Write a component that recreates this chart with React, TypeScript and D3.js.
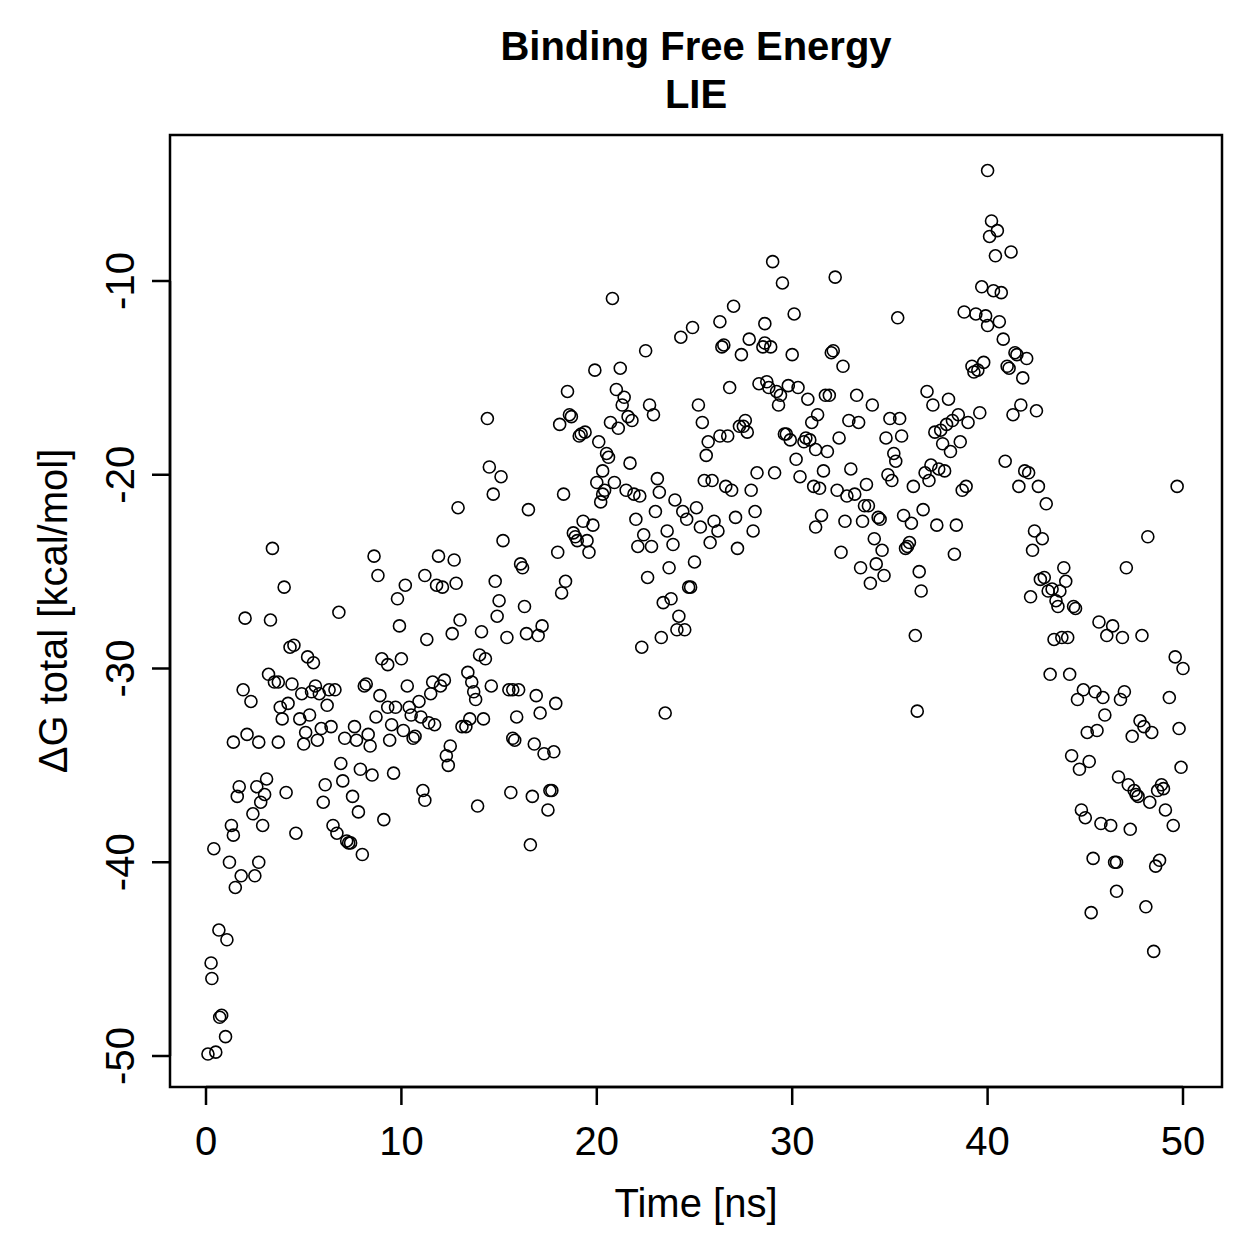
import React from "react";
import * as d3 from "d3";

const xTicks = [0, 10, 20, 30, 40, 50];
const yTicks = [-50, -40, -30, -20, -10];
const title1 = "Binding Free Energy";
const title2 = "LIE";
const xLabel = "Time [ns]";
const yLabel = "ΔG total [kcal/mol]";

// [time (ns), ΔG total (kcal/mol)]
const points: [number, number][] = [
  [0.1,-49.9],[0.5,-49.8],[1.0,-49.0],[0.8,-47.9],[0.7,-48.0],[0.26,-45.2],[0.3,-46.0],[0.66,-43.5],[1.07,-44.0],
  [0.4,-39.3],[1.2,-40.0],[1.3,-38.1],[1.4,-38.6],[1.5,-41.3],[1.4,-33.8],[1.6,-36.6],[1.7,-36.1],[1.8,-40.7],
  [1.9,-31.1],[2.0,-27.4],[2.1,-33.4],[2.3,-31.7],[2.4,-37.5],[2.5,-40.7],[2.6,-36.1],[2.7,-33.8],[2.7,-40.0],
  [2.8,-36.9],[2.9,-38.1],[3.0,-36.5],[3.1,-35.7],[3.3,-27.5],[3.2,-30.3],[3.4,-23.8],[3.5,-30.7],[3.7,-30.7],
  [3.7,-33.8],[3.8,-32.0],[3.9,-32.6],[4.0,-25.8],[4.1,-36.4],[4.2,-31.8],[4.3,-28.9],[4.4,-30.8],[4.5,-28.8],
  [4.6,-38.5],[4.8,-32.6],[4.9,-31.3],[5.0,-33.9],[5.1,-33.3],[5.2,-29.4],[5.3,-32.4],[5.4,-31.2],[5.5,-29.7],
  [5.6,-30.9],[5.7,-33.7],[5.8,-31.3],[5.9,-33.1],[6.0,-36.9],[6.1,-36.0],[6.2,-31.9],[6.3,-31.1],[6.4,-33.0],
  [6.5,-38.1],[6.6,-31.1],[6.7,-38.5],[6.8,-27.1],[6.9,-34.9],[7.0,-35.8],[7.1,-33.6],[7.2,-38.9],[7.3,-39.0],
  [7.4,-39.0],[7.5,-36.6],[7.6,-33.0],[7.7,-33.7],[7.8,-37.4],[7.9,-35.2],[8.0,-39.6],[8.1,-30.9],[8.2,-30.8],
  [8.3,-33.4],[8.4,-34.0],[8.5,-35.5],[8.6,-24.2],[8.7,-32.5],[8.8,-25.2],[8.9,-31.4],[9.0,-29.5],[9.1,-37.8],
  [9.3,-29.8],[9.3,-32.0],[9.4,-33.7],[9.5,-32.9],[9.6,-35.4],[9.7,-32.0],[9.8,-26.4],[9.9,-27.8],[10.0,-29.5],
  [10.1,-33.2],[10.2,-25.7],[10.3,-30.9],[10.4,-32.0],[10.5,-32.4],[10.6,-33.6],[10.7,-33.5],[10.9,-31.7],[11.0,-32.5],
  [11.1,-36.3],[11.2,-36.8],[11.2,-25.2],[11.3,-28.5],[11.4,-32.8],[11.5,-31.3],[11.6,-30.7],[11.7,-32.9],[11.8,-25.7],
  [11.9,-24.2],[12.0,-30.9],[12.1,-25.8],[12.2,-30.6],[12.3,-34.5],[12.4,-35.0],[12.5,-34.0],[12.6,-28.2],[12.7,-24.4],
  [12.8,-25.6],[12.9,-21.7],[13.0,-27.5],[13.1,-33.0],[13.3,-33.0],[13.4,-30.2],[13.5,-32.6],[13.6,-30.7],[13.7,-31.2],
  [13.8,-31.6],[13.9,-37.1],[14.0,-29.3],[14.1,-28.1],[14.2,-32.6],[14.3,-29.5],[14.4,-17.1],[14.5,-19.6],[14.6,-30.9],
  [14.7,-21.0],[14.8,-25.5],[14.9,-27.3],[15.0,-26.5],[15.1,-20.1],[15.2,-23.4],[15.4,-28.4],[15.5,-31.1],[15.6,-36.4],
  [15.7,-31.1],[15.7,-33.6],[15.8,-33.7],[15.9,-32.5],[16.0,-31.1],[16.1,-24.6],[16.2,-24.8],[16.3,-26.8],[16.4,-28.2],
  [16.5,-21.8],[16.6,-39.1],[16.7,-36.6],[16.8,-33.9],[16.9,-31.4],[17.0,-28.3],[17.1,-32.3],[17.2,-27.8],[17.3,-34.4],
  [17.5,-37.3],[17.6,-36.3],[17.7,-36.3],[17.8,-34.3],[17.9,-31.8],[18.0,-24.0],[18.1,-17.4],[18.2,-26.1],[18.3,-21.0],
  [18.4,-25.5],[18.5,-15.7],[18.6,-16.9],[18.7,-17.0],[18.8,-23.0],[18.9,-23.2],[19.0,-23.4],[19.1,-18.0],[19.2,-17.9],
  [19.3,-22.4],[19.4,-17.8],[19.5,-23.4],[19.6,-24.0],[19.8,-22.6],[19.9,-14.6],[20.0,-20.4],[20.1,-18.3],[20.2,-21.4],
  [20.3,-19.8],[20.3,-21.0],[20.4,-20.8],[20.5,-18.9],[20.6,-19.1],[20.7,-17.3],[20.8,-10.9],[20.9,-20.4],[21.0,-15.6],
  [21.1,-17.6],[21.2,-14.5],[21.3,-16.4],[21.4,-16.0],[21.5,-20.8],[21.6,-17.0],[21.7,-19.4],[21.8,-17.2],[21.9,-21.0],
  [22.0,-22.3],[22.1,-23.7],[22.2,-21.1],[22.3,-28.9],[22.4,-23.1],[22.5,-13.6],[22.6,-25.3],[22.7,-16.4],[22.8,-23.7],
  [22.9,-16.9],[23.0,-21.9],[23.1,-20.2],[23.2,-20.9],[23.3,-28.4],[23.4,-26.6],[23.5,-32.3],[23.6,-22.9],[23.7,-24.8],
  [23.8,-26.4],[23.9,-23.6],[24.0,-21.3],[24.1,-28.0],[24.2,-27.3],[24.3,-12.9],[24.4,-21.9],[24.5,-28.0],[24.6,-22.3],
  [24.7,-25.8],[24.8,-25.8],[24.9,-12.4],[25.0,-24.5],[25.1,-21.7],[25.2,-16.4],[25.3,-22.7],[25.4,-17.3],[25.5,-20.3],
  [25.6,-19.0],[25.7,-18.3],[25.8,-23.5],[25.9,-20.3],[26.0,-22.4],[26.2,-22.9],[26.3,-18.0],[26.3,-12.1],[26.4,-13.4],
  [26.5,-13.3],[26.6,-20.6],[26.7,-18.0],[26.8,-15.5],[26.9,-20.8],[27.0,-11.3],[27.1,-22.2],[27.2,-23.8],[27.3,-17.5],
  [27.4,-13.8],[27.5,-17.5],[27.6,-17.2],[27.7,-17.8],[27.8,-13.0],[27.9,-20.8],[28.0,-22.9],[28.1,-21.9],[28.2,-19.9],
  [28.3,-15.3],[28.5,-13.4],[28.6,-13.2],[28.6,-12.2],[28.7,-15.2],[28.8,-15.5],[28.9,-13.4],[29.0,-9.0],[29.1,-19.9],
  [29.2,-15.7],[29.3,-16.4],[29.4,-15.9],[29.5,-10.1],[29.6,-17.9],[29.7,-17.9],[29.8,-15.4],[29.9,-18.2],[30.0,-13.8],
  [30.1,-11.7],[30.2,-19.2],[30.3,-15.5],[30.4,-20.1],[30.6,-18.3],[30.7,-18.1],[30.8,-16.1],[30.9,-18.2],[31.0,-17.3],
  [31.1,-20.6],[31.2,-22.7],[31.2,-18.7],[31.3,-16.9],[31.4,-20.7],[31.5,-22.1],[31.6,-19.8],[31.7,-15.9],[31.8,-18.8],
  [31.9,-15.9],[32.0,-13.7],[32.1,-13.6],[32.2,-9.8],[32.3,-20.8],[32.4,-18.1],[32.5,-24.0],[32.6,-14.4],[32.7,-22.4],
  [32.8,-21.1],[32.9,-17.2],[33.0,-19.7],[33.2,-21.0],[33.3,-15.9],[33.4,-17.3],[33.5,-24.8],[33.6,-22.4],[33.7,-21.6],
  [33.8,-20.5],[33.9,-21.6],[34.0,-25.6],[34.1,-16.4],[34.2,-23.3],[34.3,-24.6],[34.4,-22.2],[34.5,-22.3],[34.6,-23.9],
  [34.7,-25.2],[34.8,-18.1],[34.9,-20.0],[35.0,-17.1],[35.1,-20.3],[35.2,-18.9],[35.3,-19.3],[35.4,-11.9],[35.5,-17.1],
  [35.6,-18.0],[35.7,-22.1],[35.8,-23.8],[35.9,-23.7],[36.0,-23.5],[36.1,-22.5],[36.2,-20.6],[36.3,-28.3],[36.4,-32.2],
  [36.5,-25.0],[36.6,-26.0],[36.7,-21.8],[36.8,-19.9],[36.9,-15.7],[37.0,-20.3],[37.1,-19.5],[37.2,-16.4],[37.3,-17.8],
  [37.4,-22.6],[37.5,-19.7],[37.6,-17.7],[37.7,-18.4],[37.8,-19.8],[37.9,-17.4],[38.0,-16.1],[38.1,-18.8],[38.2,-17.2],
  [38.3,-24.1],[38.4,-22.6],[38.5,-16.9],[38.6,-18.3],[38.7,-20.8],[38.8,-11.6],[38.9,-20.6],[39.0,-17.3],[39.2,-14.4],
  [39.3,-14.7],[39.4,-11.7],[39.5,-14.6],[39.6,-16.8],[39.7,-10.3],[39.8,-14.2],[39.9,-11.8],[40.0,-12.3],[40.0,-4.3],
  [40.1,-7.7],[40.2,-6.9],[40.3,-10.5],[40.4,-8.7],[40.5,-7.4],[40.6,-12.1],[40.7,-10.6],[40.8,-13.0],[40.9,-19.3],
  [41.0,-14.4],[41.1,-14.5],[41.2,-8.5],[41.3,-16.9],[41.4,-13.7],[41.5,-13.8],[41.6,-20.6],[41.7,-16.4],[41.8,-15.0],
  [41.9,-19.8],[42.0,-14.0],[42.1,-19.9],[42.2,-26.3],[42.3,-23.9],[42.4,-22.9],[42.5,-16.7],[42.6,-20.6],[42.7,-25.4],
  [42.8,-23.3],[42.9,-25.3],[43.0,-21.5],[43.1,-26.0],[43.2,-30.3],[43.3,-25.9],[43.4,-28.5],[43.5,-26.5],[43.6,-26.8],
  [43.7,-26.0],[43.8,-28.4],[43.9,-24.8],[44.0,-25.5],[44.1,-28.4],[44.2,-30.3],[44.3,-34.5],[44.4,-26.8],[44.5,-26.9],
  [44.6,-31.6],[44.7,-35.2],[44.8,-37.3],[44.9,-31.1],[45.0,-37.7],[45.1,-33.3],[45.2,-34.8],[45.3,-42.6],[45.4,-39.8],
  [45.5,-31.2],[45.6,-33.2],[45.7,-27.6],[45.8,-38.0],[45.9,-31.5],[46.0,-32.4],[46.1,-28.3],[46.3,-38.1],[46.4,-27.8],
  [46.5,-40.0],[46.6,-41.5],[46.6,-40.0],[46.7,-35.6],[46.8,-31.6],[46.9,-28.4],[47.0,-31.2],[47.1,-24.8],[47.2,-36.0],
  [47.3,-38.3],[47.4,-33.5],[47.5,-36.3],[47.6,-36.5],[47.7,-36.6],[47.8,-32.7],[47.9,-28.3],[48.0,-33.0],[48.1,-42.3],
  [48.2,-23.2],[48.3,-36.9],[48.4,-33.3],[48.5,-44.6],[48.6,-40.2],[48.7,-36.3],[48.8,-39.9],[48.9,-36.0],[49.0,-36.2],
  [49.1,-37.3],[49.3,-31.5],[49.5,-38.1],[49.6,-29.4],[49.7,-20.6],[49.8,-33.1],[49.9,-35.1],[50.0,-30.0]
];

const W = 1259;
const H = 1259;
const box = { left: 170, right: 1222, top: 135, bottom: 1087 };
const font = "'Liberation Sans', Arial, Helvetica, sans-serif";

export default function App() {
  const x = d3.scaleLinear().domain([0, 50]).range([206, 1183]);
  const y = d3.scaleLinear().domain([-50, -10]).range([1056, 281]);
  return (
    <svg width={W} height={H} style={{ position: "absolute", left: 0, top: 0, background: "#fff" }} fontFamily={font}>
      <rect x={0} y={0} width={W} height={H} fill="#fff" />
      <text x={696} y={60} textAnchor="middle" fontSize={40} fontWeight="bold">{title1}</text>
      <text x={696} y={108} textAnchor="middle" fontSize={40} fontWeight="bold">{title2}</text>
      <rect x={box.left} y={box.top} width={box.right - box.left} height={box.bottom - box.top} fill="none" stroke="#000" strokeWidth={2.5} />
      {points.map(([t, g], i) => (
        <circle key={i} cx={x(t)} cy={y(g)} r={6} fill="none" stroke="#000" strokeWidth={1.6} />
      ))}
      {/* x axis */}
      <line x1={x(0)} x2={x(50)} y1={box.bottom} y2={box.bottom} stroke="#000" strokeWidth={2.5} />
      {xTicks.map((t) => (
        <g key={t}>
          <line x1={x(t)} x2={x(t)} y1={box.bottom} y2={box.bottom + 18} stroke="#000" strokeWidth={2.5} />
          <text x={x(t)} y={1155} textAnchor="middle" fontSize={40}>{t}</text>
        </g>
      ))}
      {/* y axis */}
      <line x1={box.left} x2={box.left} y1={y(-50)} y2={y(-10)} stroke="#000" strokeWidth={2.5} />
      {yTicks.map((t) => (
        <g key={t}>
          <line x1={box.left} x2={box.left - 18} y1={y(t)} y2={y(t)} stroke="#000" strokeWidth={2.5} />
          <text transform={`translate(134,${y(t)}) rotate(-90)`} textAnchor="middle" fontSize={40}>{t}</text>
        </g>
      ))}
      <text x={696} y={1217} textAnchor="middle" fontSize={40}>{xLabel}</text>
      <text transform={`translate(67,${(box.top + box.bottom) / 2}) rotate(-90)`} textAnchor="middle" fontSize={40}>{yLabel}</text>
    </svg>
  );
}
